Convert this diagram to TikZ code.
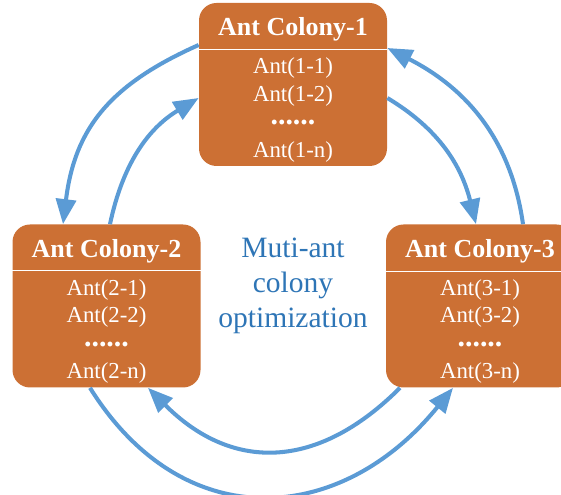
\documentclass[tikz,border=0pt]{standalone}
\usepackage{fontspec}
\setmainfont{Liberation Serif}
\usetikzlibrary{arrows.meta,positioning}
\definecolor{antOrange}{RGB}{204,112,52}
\definecolor{arrBlue}{RGB}{91,155,213}
\definecolor{txtBlue}{RGB}{46,117,182}

\begin{document}
\begin{tikzpicture}[
  colony/.style={fill=antOrange, rounded corners=0.35cm, minimum width=3.76cm, minimum height=3.26cm, inner sep=0pt},
  head/.style={anchor=base, text=white, font=\bfseries\fontsize{14.8}{16}\selectfont, inner sep=0pt},
  body/.style={anchor=north, text=white, align=center, font=\fontsize{13}{15.7}\selectfont, inner sep=0pt},
  divider/.style={white, line width=0.6pt},
  lbl/.style={text=txtBlue, align=center, font=\fontsize{16.8}{19.9}\selectfont},
  arr/.style={-{Triangle[length=0.5cm, width=0.4cm]}, arrBlue, line width=2.3pt}
]
\clip (0,0) rectangle (11.22,9.9);

\node[colony] (col1) at (5.86,8.21) {};
\node[head] (col1Head) at ([yshift=-0.66cm]col1.north) {Ant Colony-1};
\draw[divider] ([yshift=-0.94cm]col1.north west) -- ([yshift=-0.94cm]col1.north east);
\node[body] (col1Ants) at ([yshift=-1.1cm]col1.north) {Ant(1-1)\\Ant(1-2)\\[-2.5pt]{\fontsize{17}{15.7}\selectfont\bfseries......}\\[3pt]Ant(1-n)};

\node[colony] (col2) at (2.13,3.78) {};
\node[head] (col2Head) at ([yshift=-0.66cm]col2.north) {Ant Colony-2};
\draw[divider] ([yshift=-0.92cm]col2.north west) -- ([yshift=-0.92cm]col2.north east);
\node[body] (col2Ants) at ([yshift=-1.1cm]col2.north) {Ant(2-1)\\Ant(2-2)\\[-2.5pt]{\fontsize{17}{15.7}\selectfont\bfseries......}\\[3pt]Ant(2-n)};

\node[colony] (col3) at (9.6,3.78) {};
\node[head] (col3Head) at ([yshift=-0.66cm]col3.north) {Ant Colony-3};
\draw[divider] ([yshift=-0.94cm]col3.north west) -- ([yshift=-0.94cm]col3.north east);
\node[body] (col3Ants) at ([yshift=-1.1cm]col3.north) {Ant(3-1)\\Ant(3-2)\\[-2.5pt]{\fontsize{17}{15.7}\selectfont\bfseries......}\\[3pt]Ant(3-n)};

\node[lbl] (mainLbl) at (5.86,4.18) {Muti-ant\\colony\\optimization};

% exchange between colonies
\draw[arr] ([yshift=0.79cm]col1.west) to[out=204, in=83, looseness=1.1] ([xshift=-0.87cm]col2.north);
\draw[arr] ([xshift=0.07cm]col2.north) to[out=78, in=211] ([yshift=-0.27cm]col1.west);
\draw[arr] ([yshift=-0.27cm]col1.east) to[out=329, in=104] ([xshift=-0.08cm]col3.north);
\draw[arr] ([xshift=0.86cm]col3.north) to[out=98, in=333] ([yshift=0.73cm]col1.east);
\draw[arr] ([xshift=-1.6cm]col3.south) to[out=225, in=315, looseness=1.2] ([xshift=0.83cm]col2.south);
\draw[arr] ([xshift=-0.33cm]col2.south) to[out=302, in=231, looseness=1.25] ([xshift=-0.54cm]col3.south);
\end{tikzpicture}
\end{document}
